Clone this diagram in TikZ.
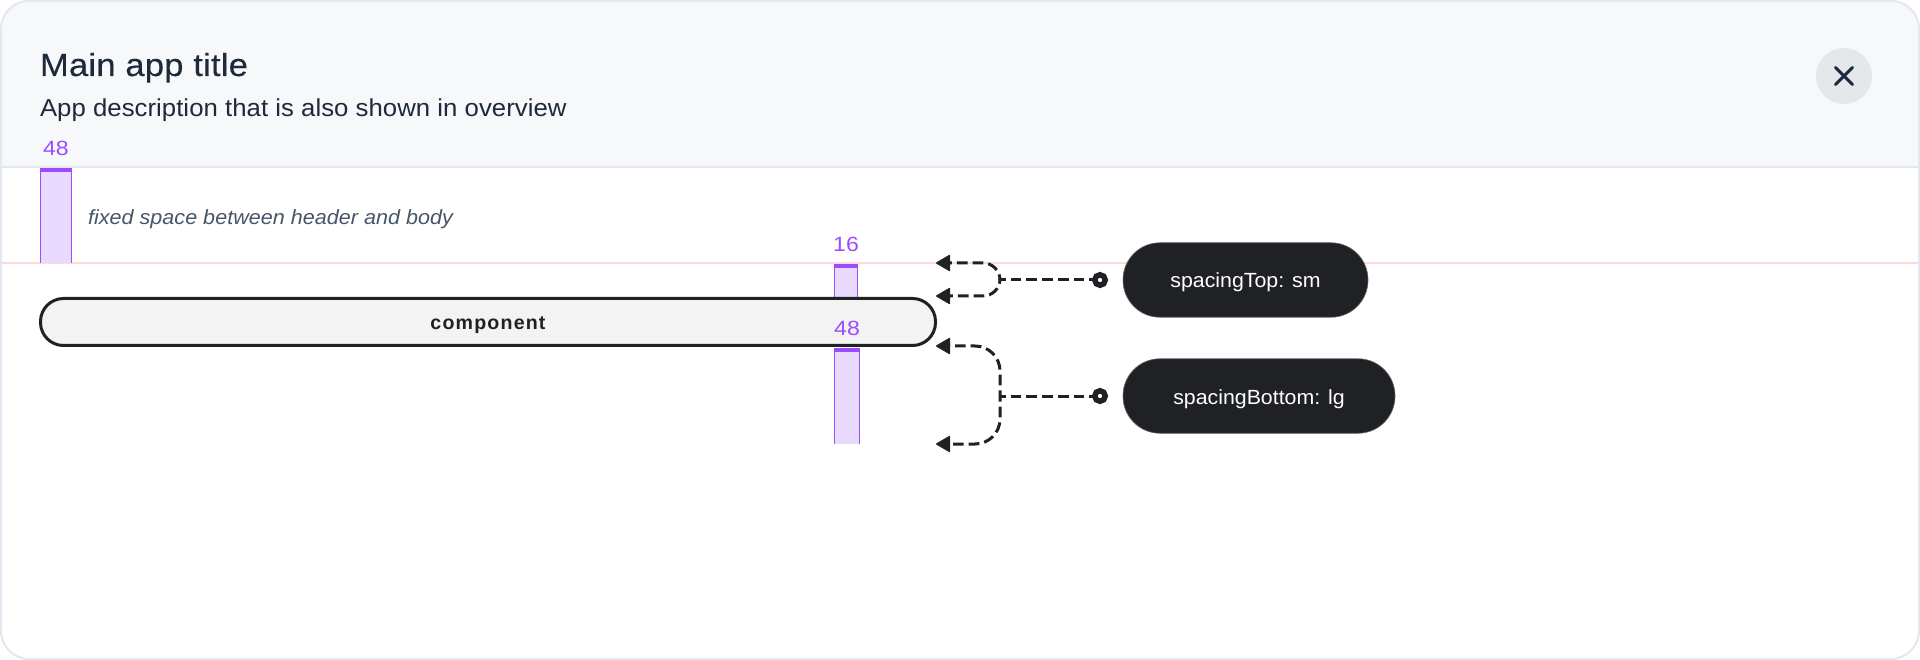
\documentclass[tikz,border=0pt]{standalone}
\usepackage{fontspec}
\setmainfont{Liberation Sans}
\newfontfamily\titlefont[FakeStretch=1.08,LetterSpace=0.7,FakeBold=0.25]{Liberation Sans}
\newfontfamily\bodyfont[FakeStretch=1.05,LetterSpace=0.2]{Liberation Sans}
\newfontfamily\numfont[FakeStretch=1.12]{Liberation Sans}
\newfontfamily\pillfont[FakeStretch=1.04]{Liberation Sans}
\newfontfamily\compfont[LetterSpace=6]{Liberation Sans}
\usetikzlibrary{arrows.meta}
\definecolor{framec}{HTML}{E2E8F0}
\definecolor{headc}{HTML}{F7F8FA}
\definecolor{inkc}{HTML}{1E293B}
\definecolor{slatec}{HTML}{475569}
\definecolor{purplec}{HTML}{9A4DFF}
\definecolor{lilacc}{HTML}{E8D9FF}
\definecolor{redc}{HTML}{FDD9D9}
\definecolor{darkc}{HTML}{1F2124}
\definecolor{compc}{HTML}{F3F3F3}
\definecolor{closec}{HTML}{E5E7EA}
\tikzset{
  x=1pt,y=-1pt,
  txt/.style={inner sep=0pt,outer sep=0pt,anchor=base west},
  ctxt/.style={inner sep=0pt,outer sep=0pt,anchor=base},
  barfill/.style={fill=lilacc},
  barside/.style={draw=purplec,line width=1pt},
  spaceband/.style={fill=purplec},
  spacelabel/.style={ctxt,text=purplec,font=\numfont\fontsize{20.6}{24}\selectfont},
  pill/.style={inner sep=0pt,outer sep=0pt,draw=darkc!70!white,line width=.6pt,fill=darkc,rounded corners=37pt,text=white,font=\pillfont\fontsize{20.5}{24}\selectfont},
  dotnode/.style={circle,draw=darkc,fill=white,line width=5.5pt,minimum size=10.5pt,inner sep=0pt,outer sep=0pt},
  conn/.style={draw=darkc,line width=3pt,dash pattern=on 10.7pt off 5pt,dash phase=5pt},
  tipped/.style={conn,-{Triangle[length=15pt,width=17pt,round,line width=1.5pt]}},
}
\begin{document}
\begin{tikzpicture}
\useasboundingbox (0,0) rectangle (1920,660);
% frame and header
\fill[white,rounded corners=28pt] (1,1) rectangle (1919,659);
\fill[headc,rounded corners=28pt] (1,167) -- (1,1) -- (1919,1) -- (1919,167);
\draw[framec,line width=2pt] (1,167) -- (1919,167);
\draw[redc,line width=2pt] (1,263) -- (1919,263);
\draw[framec,line width=2pt,rounded corners=28pt] (1,1) rectangle (1919,659);
% header content
\node[txt,text=inkc,font=\titlefont\fontsize{32}{36}\selectfont] (title) at (40,76) {Main app title};
\node[txt,text=inkc,font=\bodyfont\fontsize{24.5}{30}\selectfont] (desc) at (40,116.5) {App description that is also shown in overview};
\node[circle,fill=closec,minimum size=56pt,inner sep=0pt] (close) at (1844,76) {};
\draw[inkc,line width=3pt,line cap=round] (1835.5,67.5) -- (1852.5,84.5) (1852.5,67.5) -- (1835.5,84.5);
% spacer bars
\fill[barfill] (40,168) rectangle (72,263);
\draw[barside] (40.5,168) -- (40.5,263) (71.5,168) -- (71.5,263);
\fill[spaceband] (40,168) rectangle (72,172);
\fill[barfill] (834,264) rectangle (858,297);
\draw[barside] (834.5,264) -- (834.5,297) (857.5,264) -- (857.5,297);
\fill[spaceband] (834,264) rectangle (858,268);
\fill[barfill] (834,348) rectangle (860,444);
\draw[barside] (834.5,348) -- (834.5,444) (859.5,348) -- (859.5,444);
\fill[spaceband] (834,348) rectangle (860,352);
% texts
\node[spacelabel] (lab48a) at (56,156) {48};
\node[txt,text=slatec,font=\fontsize{20.5}{24}\selectfont\itshape] (note) at (88,224.7) {\addfontfeature{FakeStretch=1.05,LetterSpace=0.2}fixed space between header and body};
\node[spacelabel] (lab16) at (846,252) {16};
% component
\node[draw=darkc,fill=compc,line width=3pt,rounded corners=23pt,minimum width=895pt,minimum height=47pt,inner sep=0pt,outer sep=0pt,font=\compfont\bfseries\fontsize{19.6}{24}\selectfont,text=darkc] (comp) at (488,322) {\raisebox{-8pt}[0pt][0pt]{component}};
\node[spacelabel] (lab48b) at (847,336) {48};
% pills
\node[pill,minimum width=245pt,minimum height=74.5pt] (top) at (1245.5,280) {\raisebox{-8pt}[0pt][0pt]{spacingTop: sm}};
\node[pill,minimum width=272pt,minimum height=74.5pt] (bottom) at (1259,396) {\raisebox{-8pt}[0pt][0pt]{spacingBottom: lg}};
% connectors
\node[dotnode] (dota) at (1100,280) {};
\node[dotnode] (dotb) at (1100,396) {};
\coordinate (ja) at (1000,280);
\coordinate (jb) at (1000,396);
\coordinate (ta) at (936,263);
\coordinate (tb) at (936,296);
\coordinate (tc) at (936,346);
\coordinate (td) at (936,444);
\draw[conn] (ja) -- (dota);
\draw[conn] (jb) -- (dotb);
\draw[tipped,rounded corners=17pt] (ja) |- (ta);
\draw[tipped,rounded corners=17pt] (ja) |- (tb);
\draw[tipped,rounded corners=25pt] (jb) |- (tc);
\draw[tipped,rounded corners=25pt] (jb) |- (td);
\end{tikzpicture}
\end{document}
